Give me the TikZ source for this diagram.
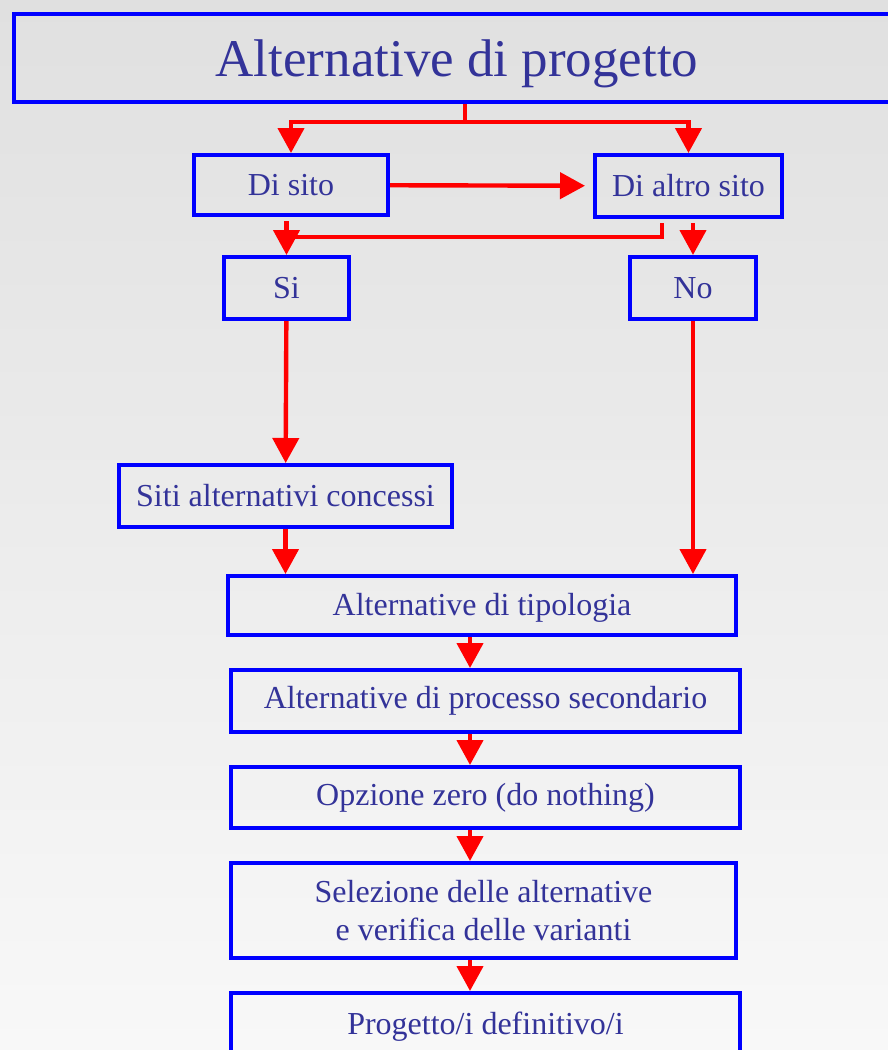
\documentclass[tikz,border=0pt]{standalone}
\usepackage{fontspec}
\setmainfont{Liberation Serif}
\usepackage{tikz}
\usetikzlibrary{arrows.meta,positioning}
\definecolor{frame}{HTML}{0000FF}
\definecolor{ink}{HTML}{333399}
\definecolor{flow}{HTML}{FF0000}
\definecolor{bgtop}{HTML}{E0E0E0}
\definecolor{bgbot}{HTML}{F8F8F8}

\begin{document}
\begin{tikzpicture}[x=0.5pt, y=-0.5pt, every node/.style={font=\fontsize{16}{19}\selectfont, text=ink}, box/.style={draw=frame, line width=2pt, align=center, inner sep=0pt}, line/.style={flow, line width=2.2pt}, arr/.style={line, -{Triangle[length=12.5pt, width=13pt]}}]
\useasboundingbox (0,0) rectangle (888,1050);
\fill[top color=bgtop, bottom color=bgbot] (0,0) rectangle (888,1050);
\clip (0,0) rectangle (888,1050);
% boxes
\node[box, minimum width=443pt, minimum height=44pt, text height=24pt, text depth=6pt, font=\fontsize{26.5}{30}\selectfont] (title) at (457,58) {Alternative di progetto};
\node[box, minimum width=97pt, minimum height=30pt] (disito) at (291,185) {Di sito};
\node[box, minimum width=93.5pt, minimum height=31pt] (altro) at (688.5,186) {Di altro sito};
\node[box, minimum width=62.5pt, minimum height=31pt] (si) at (286.5,288) {Si};
\node[box, minimum width=63pt, minimum height=31pt] (no) at (693,288) {No};
\node[box, minimum width=166.5pt, minimum height=31pt] (siti) at (285.5,496) {Siti alternativi concessi};
\node[box, minimum width=254pt, minimum height=29.5pt, text height=13pt, text depth=3.5pt] (tipologia) at (482,605.5) {Alternative di tipologia};
\node[box, minimum width=254.5pt, minimum height=31pt] (processo) at (485.5,701) {Alternative di processo secondario};
\node[box, minimum width=254.5pt, minimum height=30.5pt] (zero) at (485.5,797.5) {Opzione zero (do nothing)};
\node[box, minimum width=252.5pt, minimum height=47.5pt] (selezione) at (483.5,910.5) {Selezione delle alternative\\e verifica delle varianti};
\node[box, minimum width=254.5pt, minimum height=34pt] (progetto) at (485.5,1027) {Progetto/i definitivo/i};
% connectors
\coordinate (split) at (465,122);
\coordinate (mergeL) at (286.5,237);
\coordinate (mergeR) at (662,237);
\coordinate (spine) at (470,0);
\draw[line] (title.south -| split) -- (split);
\draw[arr] (split) -| (disito);
\draw[arr] (split) -| (altro);
\draw[arr, shorten >=4pt] (disito) -- (altro);
\draw[arr, shorten <=2pt] (disito.south -| si) -- (si);
\draw[line, shorten <=2pt] (altro.south -| mergeR) -- (mergeR) -- (mergeL);
\draw[arr, shorten <=2pt] (altro.south -| no) -- (no);
\draw[arr] (si) -- (siti);
\draw[arr] (siti.south) -- (siti.south |- tipologia.north);
\draw[arr] (no.south) -- (no.south |- tipologia.north);
\draw[arr] (tipologia.south -| spine) -- (processo.north -| spine);
\draw[arr] (processo.south -| spine) -- (zero.north -| spine);
\draw[arr] (zero.south -| spine) -- (selezione.north -| spine);
\draw[arr] (selezione.south -| spine) -- (progetto.north -| spine);
\end{tikzpicture}
\end{document}
